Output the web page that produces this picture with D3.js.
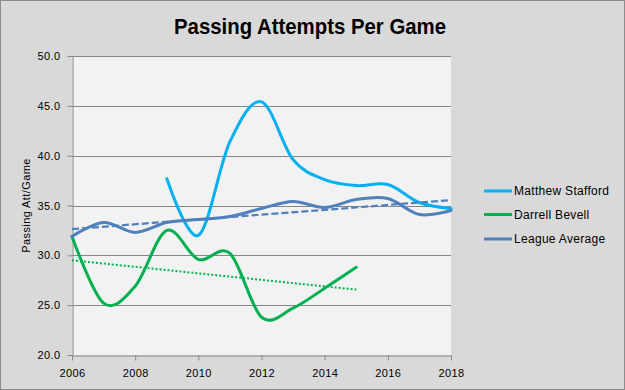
<!DOCTYPE html>
<html><head><meta charset="utf-8">
<script src="https://cdn.jsdelivr.net/npm/d3@7/dist/d3.min.js"></script>
<style>
body{margin:0;background:#d9d9d9}
svg{display:block}
</style>
</head><body>
<svg id="c" width="625" height="390"></svg>
<script>
// ---- data ----
const title = "Passing Attempts Per Game";
const yTitle = "Passing Att/Game";
const leagueYears = [2006,2007,2008,2009,2010,2011,2012,2013,2014,2015,2016,2017,2018];
const league = [31.9,33.3,32.3,33.3,33.6,33.9,34.7,35.4,34.8,35.6,35.7,34.1,34.5];
const staffordYears = [2009,2010,2011,2012,2013,2014,2015,2016,2017,2018];
const stafford = [37.7,32.0,41.4,45.4,39.6,37.6,37.0,37.1,35.3,34.7];
const bevellYears = [2006,2007,2008,2009,2010,2011,2012,2013,2014,2015];
const bevell = [31.9,25.2,26.9,32.5,29.6,30.2,23.8,24.7,26.7,28.8];
const yTicks = [20,25,30,35,40,45,50];
const xTicks = [2006,2008,2010,2012,2014,2016,2018];
const seriesNames = ["Matthew Stafford","Darrell Bevell","League Average"];
const seriesColors = ["#00b0f0","#00b050","#4f81bd"];

// ---- layout ----
const svg = d3.select("#c");
const W = 625, H = 390;
const L = 72, R = 451, T = 56, B = 355;
const x = d3.scaleLinear().domain([2006,2018]).range([L,R]);
const y = d3.scaleLinear().domain([20,50]).range([B,T]);

svg.append("rect").attr("x",0.5).attr("y",0.5).attr("width",W-1).attr("height",H-1)
  .attr("fill","#d9d9d9").attr("stroke","#8c8c8c");
svg.append("rect").attr("x",L).attr("y",T).attr("width",R-L).attr("height",B-T).attr("fill","#f2f2f2");

// gridlines
svg.append("g").selectAll("line").data(yTicks.filter(d=>d>20)).join("line")
  .attr("x1",L).attr("x2",R).attr("y1",d=>Math.round(y(d))+0.5).attr("y2",d=>Math.round(y(d))+0.5)
  .attr("stroke","#868686").attr("stroke-width",1);

// axes
const fontTick = "'Liberation Sans', Arial, sans-serif";
const gy = svg.append("g").attr("transform",`translate(${L+0.5},0)`)
  .call(d3.axisLeft(y).tickValues(yTicks).tickFormat(d3.format(".1f")).tickSize(5).tickSizeOuter(0).tickPadding(7));
const gx = svg.append("g").attr("transform",`translate(0,${B+0.5})`)
  .call(d3.axisBottom(x).tickValues(xTicks).tickFormat(d3.format("d")).tickSize(5).tickSizeOuter(0).tickPadding(9));
[gy,gx].forEach(g=>{
  g.selectAll("path,line").attr("stroke","#868686");
  g.selectAll("text").attr("fill","#000").style("font-family",fontTick).style("font-size","11px").style("letter-spacing","0.4px");
});

// series
const line = d3.line().x(d=>x(d[0])).y(d=>y(d[1])).curve(d3.curveCardinal.tension(0));
const pts = (xs,vs)=>xs.map((v,i)=>[v,vs[i]]);
const sData = [pts(staffordYears,stafford), pts(bevellYears,bevell), pts(leagueYears,league)];
sData.forEach((d,i)=>{
  svg.append("path").attr("d",line(d)).attr("fill","none")
    .attr("stroke",seriesColors[i]).attr("stroke-width",3).attr("stroke-linecap","round");
});

// linear trendlines (least squares from the data)
function trend(xs,vs){
  const mx=d3.mean(xs), my=d3.mean(vs);
  const sxy=d3.sum(xs,(v,i)=>(v-mx)*(vs[i]-my)), sxx=d3.sum(xs,v=>(v-mx)*(v-mx));
  const b=sxy/sxx, a=my-b*mx;
  return [[xs[0],a+b*xs[0]],[xs[xs.length-1],a+b*xs[xs.length-1]]];
}
const lin = d3.line().x(d=>x(d[0])).y(d=>y(d[1]));
svg.append("path").attr("d",lin(trend(leagueYears,league))).attr("fill","none")
  .attr("stroke",seriesColors[2]).attr("stroke-width",2.25).attr("stroke-dasharray","7,3");
svg.append("path").attr("d",lin(trend(bevellYears,bevell))).attr("fill","none")
  .attr("stroke",seriesColors[1]).attr("stroke-width",2).attr("stroke-dasharray","2,2");

// title
svg.append("text").attr("x",310).attr("y",34).attr("text-anchor","middle")
  .attr("textLength",272).attr("lengthAdjust","spacingAndGlyphs")
  .style("font-family","'Liberation Sans',Arial,sans-serif")
  .style("font-weight","bold").style("font-size","22px").attr("fill","#000").text(title);

// y title
svg.append("text").attr("transform","translate(30,205.5) rotate(-90)").attr("text-anchor","middle")
  .style("font-family",fontTick).style("font-size","11px").style("letter-spacing","0.4px")
  .attr("fill","#000").text(yTitle);

// legend
const lg = svg.append("g");
const rowY = [191,214.5,239];
seriesNames.forEach((n,i)=>{
  lg.append("line").attr("x1",484).attr("x2",512).attr("y1",rowY[i]).attr("y2",rowY[i])
    .attr("stroke",seriesColors[i]).attr("stroke-width",3);
  lg.append("text").attr("x",514).attr("y",rowY[i]).attr("dy","0.35em")
    .style("font-family",fontTick).style("font-size","12px").style("letter-spacing","0.3px")
    .attr("fill","#000").text(n);
});
</script>
</body></html>
